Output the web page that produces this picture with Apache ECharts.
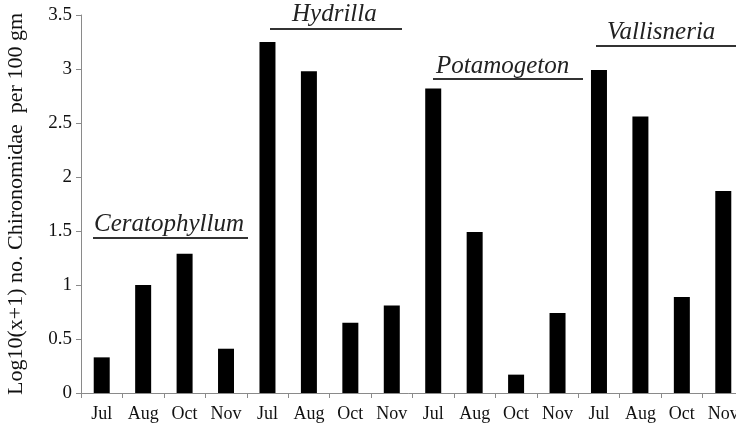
<!DOCTYPE html>
<html><head><meta charset="utf-8">
<script src="https://cdn.jsdelivr.net/npm/echarts@6/dist/echarts.min.js"></script>
<style>html,body{margin:0;padding:0;background:#fff}#c{width:736px;height:428px}</style>
</head><body><div id="c"></div>
<script>
var months = ['Jul','Aug','Oct','Nov','Jul','Aug','Oct','Nov','Jul','Aug','Oct','Nov','Jul','Aug','Oct','Nov'];
var values = [0.33,1.00,1.29,0.41, 3.25,2.98,0.65,0.81, 2.82,1.49,0.17,0.74, 2.99,2.56,0.89,1.87];
var yTicks = [0,0.5,1,1.5,2,2.5,3,3.5];
var groups = ['Ceratophyllum','Hydrilla','Potamogeton','Vallisneria'];

var chart = echarts.init(document.getElementById('c'), null, {renderer:'canvas'});
var serif = 'Liberation Serif';
chart.setOption({
  animation:false,
  backgroundColor:'#fff',
  grid:{left:81, top:15, bottom:35, right:-8, containLabel:false, outerBoundsMode:'none'},
  xAxis:{
    type:'category', data:months,
    axisLine:{lineStyle:{color:'#8a8a8a', width:1}},
    axisTick:{show:true, length:5, lineStyle:{color:'#8a8a8a'}},
    axisLabel:{color:'#111', fontFamily:serif, fontSize:18, margin:12, interval:0}
  },
  yAxis:{
    type:'value', min:0, max:3.5, interval:0.5,
    name:'Log10(x+1) no. Chironomidae  per 100 gm',
    nameLocation:'middle', nameGap:54, nameRotate:90,
    nameTextStyle:{color:'#111', fontFamily:serif, fontSize:22},
    splitLine:{show:false},
    axisLine:{show:true, lineStyle:{color:'#8a8a8a', width:1}},
    axisTick:{show:true, length:5, lineStyle:{color:'#8a8a8a'}},
    axisLabel:{color:'#111', fontFamily:serif, fontSize:19, margin:9,
      formatter:function(v){return String(v);}}
  },
  series:[{
    type:'bar', data:values, barWidth:16,
    itemStyle:{color:'#000'}
  }],
  graphic:[
    {type:'text', left:94, top:212, style:{text:groups[0], font:'italic 25px "Liberation Serif"', fill:'#222'}},
    {type:'line', shape:{x1:93,y1:238,x2:248,y2:238}, style:{stroke:'#333', lineWidth:2}},
    {type:'text', left:292, top:2, style:{text:groups[1], font:'italic 25px "Liberation Serif"', fill:'#222'}},
    {type:'line', shape:{x1:270,y1:29,x2:402,y2:29}, style:{stroke:'#333', lineWidth:2}},
    {type:'text', left:436, top:54, style:{text:groups[2], font:'italic 25px "Liberation Serif"', fill:'#222'}},
    {type:'line', shape:{x1:433,y1:79,x2:583,y2:79}, style:{stroke:'#333', lineWidth:2}},
    {type:'text', left:607, top:20, style:{text:groups[3], font:'italic 25px "Liberation Serif"', fill:'#222'}},
    {type:'line', shape:{x1:596,y1:46,x2:736,y2:46}, style:{stroke:'#333', lineWidth:2}}
  ]
});
</script></body></html>
